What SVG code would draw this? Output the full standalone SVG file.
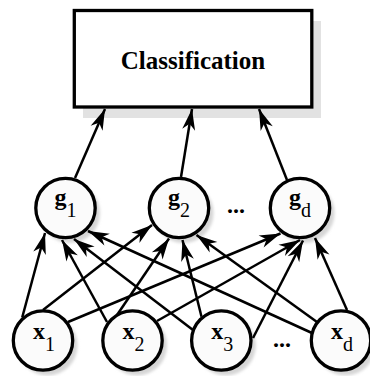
<svg xmlns="http://www.w3.org/2000/svg" width="370" height="376" viewBox="0 0 370 376">
<defs>
<style>
.node{fill:#fbfbfb;stroke:#000;stroke-width:3.3}
.shadow{fill:#d6d6d6;filter:url(#blur)}
.boxshadow{fill:#e2e2e2}
.edge{stroke:#000;stroke-width:2.5;fill:none;marker-end:url(#arrow)}
.t{font-family:'Liberation Serif',serif;font-weight:bold;text-anchor:middle}
</style>
<filter id="blur" x="-20%" y="-20%" width="140%" height="140%"><feGaussianBlur stdDeviation="1.5"/></filter>
<marker id="arrow" markerUnits="userSpaceOnUse" markerWidth="24" markerHeight="16" refX="21" refY="6.5" orient="auto" overflow="visible">
<path d="M0,0 L21,6.5 L0,13 L6,6.5 Z" fill="#000"/>
</marker>
</defs>
<rect width="370" height="376" fill="#fff"/>

<g id="node-classification">
<rect class="boxshadow" x="83" y="21" width="238" height="97"/>
<rect x="74.3" y="10.5" width="237.5" height="96.5" fill="#fff" stroke="#000" stroke-width="3.3"/>
<text class="t" x="193" y="69" font-size="25">Classification</text>
</g>

<g id="node-g1">
<circle class="shadow" cx="70" cy="213" r="30"/>
<circle class="node" cx="65.5" cy="208" r="29.7"/>
<text class="t" x="65.5" y="205" font-size="24">g<tspan font-weight="normal" font-size="20" dy="12">1</tspan></text>
</g>
<g id="node-g2">
<circle class="shadow" cx="183.5" cy="213" r="30"/>
<circle class="node" cx="179" cy="208" r="29.7"/>
<text class="t" x="179" y="205" font-size="24">g<tspan font-weight="normal" font-size="20" dy="12">2</tspan></text>
</g>
<g id="node-gd">
<circle class="shadow" cx="304.5" cy="213" r="30"/>
<circle class="node" cx="300" cy="208" r="29.7"/>
<text class="t" x="300" y="205" font-size="24">g<tspan font-weight="normal" font-size="20" dy="12">d</tspan></text>
</g>

<g id="node-x1">
<circle class="shadow" cx="47.5" cy="345.5" r="30"/>
<circle class="node" cx="43" cy="340.5" r="29.7"/>
<text class="t" x="44" y="339" font-size="24">x<tspan font-weight="normal" font-size="20" dy="12">1</tspan></text>
</g>
<g id="node-x2">
<circle class="shadow" cx="137" cy="345.5" r="30"/>
<circle class="node" cx="132.5" cy="340.5" r="29.7"/>
<text class="t" x="133.5" y="339" font-size="24">x<tspan font-weight="normal" font-size="20" dy="12">2</tspan></text>
</g>
<g id="node-x3">
<circle class="shadow" cx="225.8" cy="345.5" r="30"/>
<circle class="node" cx="221.3" cy="340.5" r="29.7"/>
<text class="t" x="222.3" y="339" font-size="24">x<tspan font-weight="normal" font-size="20" dy="12">3</tspan></text>
</g>
<g id="node-xd">
<circle class="shadow" cx="345.5" cy="345.5" r="30"/>
<circle class="node" cx="341" cy="340.5" r="29.7"/>
<text class="t" x="342" y="339" font-size="24">x<tspan font-weight="normal" font-size="20" dy="12">d</tspan></text>
</g>

<g id="ellipses">
<text class="t" x="236" y="213" font-size="24">...</text>
<text class="t" x="282" y="347" font-size="24">...</text>
</g>

<g id="connectors">
<line class="edge" x1="75" y1="178" x2="105" y2="109"/>
<line class="edge" x1="181" y1="177" x2="192" y2="109"/>
<line class="edge" x1="287" y1="180" x2="259" y2="109"/>

<line class="edge" x1="22.2" y1="317.5" x2="45" y2="233"/>
<line class="edge" x1="43" y1="310" x2="152" y2="225"/>
<line class="edge" x1="68" y1="322" x2="280.5" y2="233.5"/>

<line class="edge" x1="107" y1="322" x2="62" y2="240"/>
<line class="edge" x1="117" y1="315" x2="169" y2="238.5"/>
<line class="edge" x1="157" y1="321" x2="300" y2="240"/>

<line class="edge" x1="193" y1="330" x2="74" y2="239"/>
<line class="edge" x1="201.5" y1="316.8" x2="182.5" y2="240"/>
<line class="edge" x1="253" y1="338" x2="303" y2="240.5"/>

<line class="edge" x1="312" y1="333" x2="88" y2="231"/>
<line class="edge" x1="317" y1="322" x2="196.5" y2="235"/>
<line class="edge" x1="347" y1="310" x2="315" y2="238"/>
</g>
</svg>
